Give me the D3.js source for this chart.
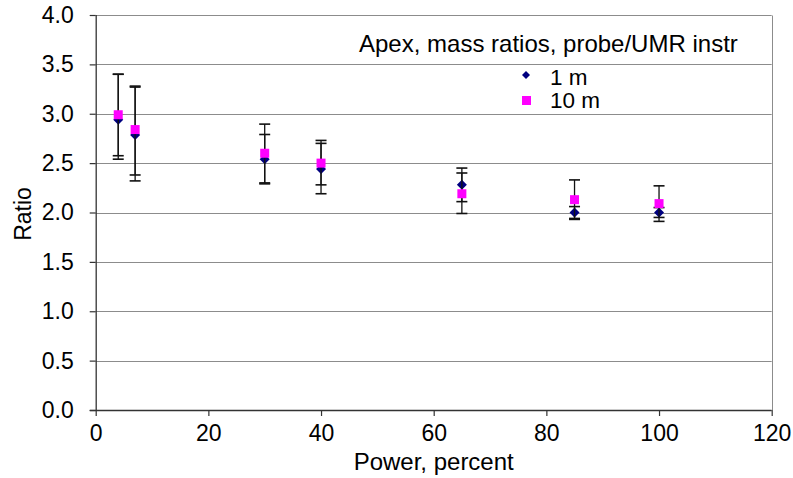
<!DOCTYPE html>
<html>
<head>
<meta charset="utf-8">
<script src="https://cdn.jsdelivr.net/npm/d3@7"></script>
<style>
  html, body { margin: 0; padding: 0; background: #ffffff; }
  svg { display: block; font-family: "Liberation Sans", Arial, sans-serif; }
</style>
</head>
<body>
<svg id="chart" width="793" height="478"></svg>
<script>
// ---- data ----
const powerPercent = [4, 7, 30, 40, 65, 85, 100];

const seriesNames = ["1 m", "10 m"];

const ratio1m     = [2.94, 2.785, 2.54, 2.44, 2.28, 2.00, 2.00];
const ratio1mLow  = [2.54, 2.32, 2.29, 2.19, 2.11, 1.94, 1.95];
const ratio1mHigh = [3.40, 3.27, 2.79, 2.70, 2.45, 2.06, 2.05];

const ratio10m     = [2.99, 2.84, 2.60, 2.50, 2.19, 2.13, 2.09];
const ratio10mLow  = [2.575, 2.38, 2.30, 2.28, 1.99, 1.93, 1.91];
const ratio10mHigh = [3.40, 3.28, 2.895, 2.73, 2.40, 2.33, 2.27];

const xTicks = [0, 20, 40, 60, 80, 100, 120];
const yTicks = [0, 0.5, 1.0, 1.5, 2.0, 2.5, 3.0, 3.5, 4.0];

const legendTitle = "Apex, mass ratios, probe/UMR instr";
const xTitle = "Power, percent";
const yTitle = "Ratio";

// ---- build ----
(function () {
const svg = d3.select("#chart");
const pLeft = 95.7, pRight = 771.7, pTop = 15, pBottom = 410;

const x = d3.scaleLinear().domain([0, 120]).range([pLeft, pRight]);
const y = d3.scaleLinear().domain([0, 4]).range([pBottom, pTop]);

// gridlines
svg.append("g").selectAll("line")
  .data(yTicks.filter(d => d > 0))
  .join("line")
  .attr("x1", pLeft).attr("x2", pRight)
  .attr("y1", d => Math.round(y(d)) + 0.5).attr("y2", d => Math.round(y(d)) + 0.5)
  .attr("stroke", "#8c8c8c").attr("stroke-width", 1);

// right border
svg.append("line")
  .attr("x1", Math.round(pRight) + 0.5).attr("x2", Math.round(pRight) + 0.5)
  .attr("y1", Math.round(pTop) + 0.5).attr("y2", pBottom)
  .attr("stroke", "#8c8c8c").attr("stroke-width", 1);

// axes
const xAxis = svg.append("g")
  .attr("transform", `translate(0,${pBottom})`)
  .call(d3.axisBottom(x).tickValues(xTicks).tickSize(6).tickPadding(9).tickFormat(d3.format("d")));
const yAxis = svg.append("g")
  .attr("transform", `translate(${pLeft},0)`)
  .call(d3.axisLeft(y).tickValues(yTicks).tickSize(6).tickPadding(16).tickFormat(d3.format(".1f")));

[xAxis, yAxis].forEach(a => {
  a.selectAll("path").attr("stroke", "#333").attr("stroke-width", 1.3);
  a.selectAll("line").attr("stroke", "#333").attr("stroke-width", 1.2);
  a.selectAll("text").attr("fill", "#000").style("font-size", "23px")
    .style("font-family", "'Liberation Sans', Arial, sans-serif");
});
xAxis.select("path").attr("d", `M${pLeft - 6},0.5H${pRight}`);
yAxis.select("path").attr("d", `M0.5,${pTop}V${pBottom}`);

// axis titles
svg.append("text")
  .attr("x", (pLeft + pRight) / 2).attr("y", 470)
  .attr("text-anchor", "middle")
  .style("font-size", "24px")
  .text(xTitle);

svg.append("text")
  .attr("transform", `translate(31,214) rotate(-90)`)
  .attr("text-anchor", "middle")
  .style("font-size", "23px")
  .text(yTitle);

// series data
const s1 = powerPercent.map((p, i) => ({ x: p, y: ratio1m[i], lo: ratio1mLow[i], hi: ratio1mHigh[i] }));
const s2 = powerPercent.map((p, i) => ({ x: p, y: ratio10m[i], lo: ratio10mLow[i], hi: ratio10mHigh[i] }));

function errorBars(data) {
  const g = svg.append("g").attr("stroke", "#111").attr("fill", "none");
  const capW = 5.5;
  g.selectAll("line.v").data(data).join("line").attr("class", "v")
    .attr("x1", d => x(d.x)).attr("x2", d => x(d.x))
    .attr("y1", d => y(d.lo)).attr("y2", d => y(d.hi))
    .attr("stroke-width", 1.3);
  g.selectAll("line.lo").data(data).join("line").attr("class", "lo")
    .attr("x1", d => x(d.x) - capW).attr("x2", d => x(d.x) + capW)
    .attr("y1", d => y(d.lo)).attr("y2", d => y(d.lo))
    .attr("stroke-width", 1.6);
  g.selectAll("line.hi").data(data).join("line").attr("class", "hi")
    .attr("x1", d => x(d.x) - capW).attr("x2", d => x(d.x) + capW)
    .attr("y1", d => y(d.hi)).attr("y2", d => y(d.hi))
    .attr("stroke-width", 1.6);
}

const diamond = r => `M0,${-r}L${r},0L0,${r}L${-r},0Z`;

// series 1: navy diamonds
errorBars(s1);
svg.append("g").selectAll("path").data(s1).join("path")
  .attr("transform", d => `translate(${x(d.x)},${y(d.y)})`)
  .attr("d", diamond(5))
  .attr("fill", "#000080");

// series 2: magenta squares
errorBars(s2);
svg.append("g").selectAll("rect").data(s2).join("rect")
  .attr("x", d => x(d.x) - 4.5).attr("y", d => y(d.y) - 4.5)
  .attr("width", 9).attr("height", 9)
  .attr("fill", "#ff00ff");

// legend
const lg = svg.append("g");
lg.append("text").attr("x", 359).attr("y", 52)
  .style("font-size", "24px").text(legendTitle);
lg.append("path").attr("transform", "translate(526,75)").attr("d", diamond(4)).attr("fill", "#000080");
lg.append("text").attr("x", 550).attr("y", 85).style("font-size", "22.5px").text(seriesNames[0]);
lg.append("rect").attr("x", 522).attr("y", 96).attr("width", 9).attr("height", 9).attr("fill", "#ff00ff");
lg.append("text").attr("x", 550).attr("y", 108).style("font-size", "22.5px").text(seriesNames[1]);
})();
</script>
</body>
</html>
